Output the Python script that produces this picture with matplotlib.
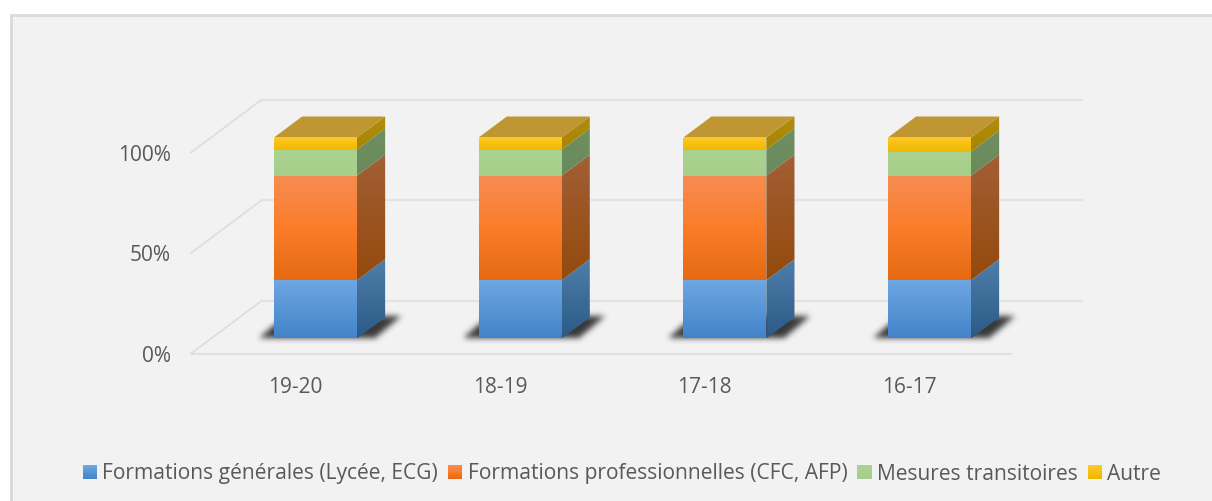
import numpy as np
import matplotlib
matplotlib.use('Agg')
import matplotlib.pyplot as plt
from matplotlib.colors import to_rgb
from matplotlib.legend_handler import HandlerBase
from matplotlib.patches import Patch, Polygon, Rectangle
from matplotlib.path import Path

periodes = ['19-20', '18-19', '17-18', '16-17']
series = ['Formations générales (Lycée, ECG)', 'Formations professionnelles (CFC, AFP)',
          'Mesures transitoires', 'Autre']
generales = [29, 29, 29, 29]
professionnelles = [52, 52, 52, 52]
transitoires = [13, 13, 13, 12]
autre = [6, 6, 6, 7]
graduations = [0, 50, 100]

# couleurs haut -> bas
front_cols = [['#6fa8e2', '#4383c9'], ['#f68c52', '#fb7d2a', '#e56a12'], ['#abd28f', '#a7cf8b'], ['#ffc926', '#efb800']]
side_cols = [['#4f7fa9', '#2b5a87'], ['#a35f36', '#934a0d'], ['#6f8f62', '#698a5c'], ['#b08d10', '#a88400']]
top_col = '#bf9632'
text_col = '#595959'

W, H = 1212, 502
px_x = 1 / 204.67      # unite de categorie par pixel
px_y = 100 / 201.0     # pourcent par pixel
DX, DY = 71 * px_x, 53 * px_y   # profondeur du plancher
bar_w = 83 * px_x
d0, d1 = 15 / 53, 36 / 53       # profondeur avant/arriere des barres


def proj(x, y, d):
    return x + d * DX, y + d * DY


def ramp(cols, n=64):
    rgb = np.array([to_rgb(c) for c in cols])
    t = np.linspace(0, 1, n)
    k = np.linspace(0, 1, len(cols))
    return np.stack([np.interp(t, k, rgb[:, i]) for i in range(3)], axis=1)[:, None, :]


fig = plt.figure(figsize=(W / 100, H / 100), dpi=100, facecolor='white')
plt.rcParams['font.family'] = ['Open Sans', 'DejaVu Sans']
fig.add_artist(Rectangle((10.5 / W, -0.01), 1.02, (H - 15.5) / H + 0.01, transform=fig.transFigure,
                         facecolor='#f2f2f2', edgecolor='#d9d9d9', lw=2, zorder=-1))

ax = fig.add_axes([0, 0, 1, 1])
ax.patch.set_alpha(0)
ax.axis('off')
# x = 0 : centre de la premiere barre sur le plan de profondeur 0
x0_px = 315.5 - d0 * 71
y0_px = 354.5
ax.set_xlim(-x0_px * px_x, (W - x0_px) * px_x)
ax.set_ylim(-(H - y0_px) * px_y, y0_px * px_y)

# grille
xl = (191 - x0_px) * px_x
xr = (1011 - x0_px) * px_x
for g in graduations:
    xb, yb = proj(xl, g, 1)
    ax.plot([xl, xb], [g, yb], color='#dedede', lw=1.3, zorder=1)
    xe, ye = proj(xr, g, 1)
    ax.plot([xb, xe], [yb, ye], color='#e3e3e3', lw=1.6, zorder=1)
    ax.text(xl - 20 * px_x, g - 2 * px_y, f'{g}%', ha='right', va='center', fontsize=15, color=text_col)
ax.plot([xl, xr], [0, 0], color='#e0e0e0', lw=1.6, zorder=1)


def face(pts, cols, z):
    pts = np.array(pts)
    im = ax.imshow(ramp(cols), extent=[pts[:, 0].min(), pts[:, 0].max(), pts[:, 1].min(), pts[:, 1].max()],
                   aspect='auto', origin='upper', zorder=z, interpolation='bilinear')
    im.set_clip_path(Polygon(pts, closed=True, transform=ax.transData))


def ombre(ox, oy):
    # parallelogramme flou sous la barre, en pixels depuis le coin avant gauche
    coins = np.array([(-16, 0), (100, 0), (126, 22), (10, 22)], dtype=float)
    xx, yy = np.meshgrid(np.arange(-30, 141), np.arange(-14, 37))
    mask = Path(coins).contains_points(np.c_[xx.ravel(), yy.ravel()]).reshape(xx.shape).astype(float)
    k = np.exp(-np.arange(-8, 9) ** 2 / (2 * 3.0 ** 2))
    k /= k.sum()
    for axis in (0, 1):
        mask = np.apply_along_axis(np.convolve, axis, mask, k, mode='same')
    rgba = np.zeros(mask.shape + (4,))
    rgba[..., :3] = to_rgb('#2e2e2e')
    rgba[..., 3] = np.clip(mask * 0.95, 0, 1)
    ax.imshow(rgba, origin='lower', aspect='auto', zorder=2, interpolation='bilinear',
              extent=[ox - 30.5 * px_x, ox + 140.5 * px_x, oy - 14.5 * px_y, oy + 36.5 * px_y])


valeurs = [generales, professionnelles, transitoires, autre]
for i, p in enumerate(periodes):
    x = i - bar_w / 2
    ombre(*proj(x, 0, d0))
    # segments
    bas = 0
    for j, v in enumerate(valeurs):
        h = v[i]
        face([proj(x + bar_w, bas, d0), proj(x + bar_w, bas, d1),
              proj(x + bar_w, bas + h, d1), proj(x + bar_w, bas + h, d0)], side_cols[j], 3)
        face([proj(x, bas, d0), proj(x + bar_w, bas, d0),
              proj(x + bar_w, bas + h, d0), proj(x, bas + h, d0)], front_cols[j], 4)
        bas += h
    ax.add_patch(Polygon([proj(x, bas, d0), proj(x + bar_w, bas, d0),
                          proj(x + bar_w, bas, d1), proj(x, bas, d1)],
                         closed=True, facecolor=top_col, edgecolor='none', zorder=4))
    ax.text(i, -(387.5 - y0_px) * px_y, p, ha='center', va='center', fontsize=15, color=text_col)


class Degrade(HandlerBase):
    # carre de legende en degrade
    def create_artists(self, legend, orig, xd, yd, w, h, fs, trans):
        cols = ramp(orig.cols, 12)[:, 0, :]
        s = 10.2
        out = []
        for k, c in enumerate(cols):
            out.append(Rectangle((0, s * (1 - (k + 1) / 12) - 0.5), s, s / 12 + 0.2,
                                 facecolor=c, edgecolor='none', transform=trans))
        return out


handles = []
for s, c in zip(series, front_cols):
    hd = Patch(label=s)
    hd.cols = c
    handles.append(hd)
ax.legend(handles=handles, handler_map={Patch: Degrade()}, loc='center', ncol=4,
          bbox_to_anchor=(622 / W, 1 - 474 / H), frameon=False, fontsize=15.1,
          labelcolor=text_col, handlelength=0.66, handletextpad=0.28, columnspacing=0.47,
          borderpad=0, borderaxespad=0)

plt.savefig('out.png', dpi=100, facecolor='white')
plt.close()
